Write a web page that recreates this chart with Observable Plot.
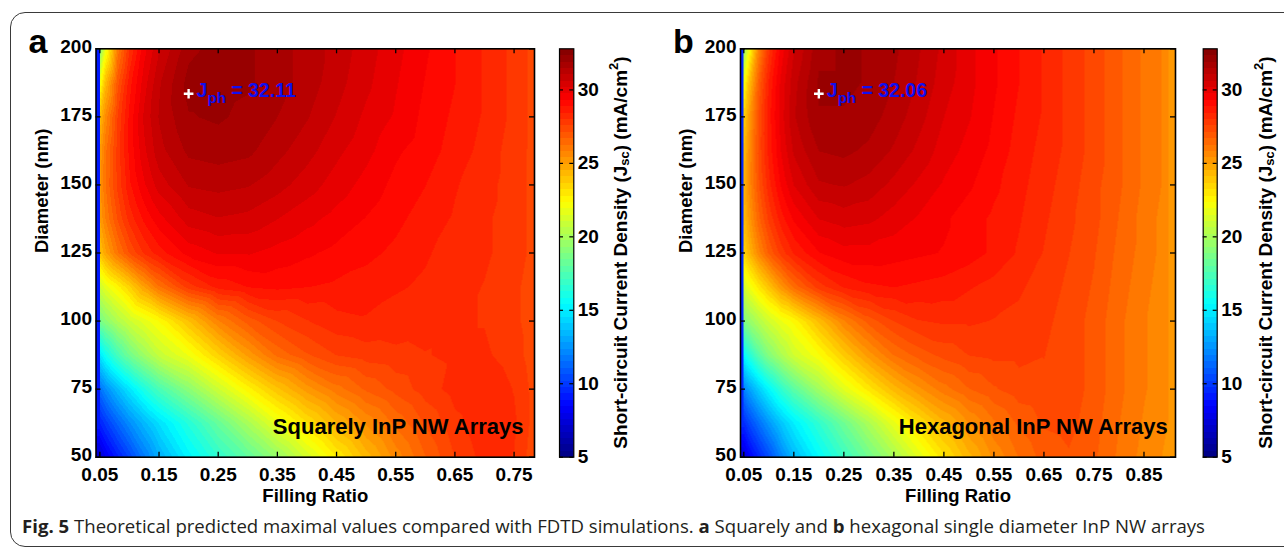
<!DOCTYPE html>
<html><head><meta charset="utf-8">
<script src="https://cdn.jsdelivr.net/npm/d3@7"></script>
<script src="https://cdn.jsdelivr.net/npm/@observablehq/plot@0.6"></script>
<style>
body{margin:0;background:#fff}
#page{position:relative;width:1284px;height:550px;overflow:hidden;background:#fff}
#box{position:absolute;left:10px;top:12px;width:1320px;height:535px;border:1.5px solid #3a3a3a;border-radius:15px;box-sizing:border-box}
.pl{position:absolute;top:0}
#caption{position:absolute;left:22px;top:513px;font-family:'Open Sans',sans-serif;font-size:18.6px;color:#231f20;white-space:nowrap}
#caption b{font-weight:700}
</style></head><body>
<div id="page">
<div id="box"></div>
<div id="pa" class="pl" style="left:0;width:545px"></div>
<div id="ca" class="pl" style="left:540px;width:100px"></div>
<div id="pb" class="pl" style="left:640px;width:545px"></div>
<div id="cb" class="pl" style="left:1184px;width:100px"></div>
<div id="caption"><b>Fig. 5</b> Theoretical predicted maximal values compared with FDTD simulations. <b>a</b> Squarely and <b>b</b> hexagonal single diameter InP NW arrays</div>
</div>
<script>
// ---- data ----
const diameters = [200, 187.5, 175, 162.5, 150, 137.5, 125, 112.5, 100, 87.5, 75, 62.5, 50];

const fillA = [0.05, 0.06, 0.08, 0.1, 0.125, 0.15, 0.2, 0.25, 0.3, 0.35, 0.4, 0.45, 0.5, 0.55, 0.6, 0.65, 0.7, 0.75, 0.78];
const jscA = [
  [19.0, 22.0, 26.0, 28.0, 29.6, 30.6, 31.8, 32.1, 32.0, 31.7, 31.3, 30.9, 30.4, 29.9, 29.4, 28.9, 28.4, 27.9, 27.5],
  [22.0, 24.3, 27.0, 28.7, 30.0, 31.0, 32.1, 32.1, 32.0, 31.7, 31.3, 30.8, 30.3, 29.8, 29.3, 28.9, 28.4, 27.9, 27.5],
  [24.2, 25.6, 27.6, 29.0, 30.3, 31.1, 31.9, 32.0, 31.8, 31.5, 31.1, 30.6, 30.1, 29.7, 29.2, 28.8, 28.4, 27.9, 27.5],
  [25.0, 26.2, 27.8, 29.0, 30.1, 30.9, 31.6, 31.7, 31.6, 31.2, 30.8, 30.3, 29.9, 29.4, 29.1, 28.7, 28.3, 27.8, 27.5],
  [25.3, 26.3, 27.7, 28.8, 29.7, 30.4, 31.1, 31.2, 31.1, 30.8, 30.4, 30.0, 29.6, 29.2, 28.9, 28.5, 28.2, 27.8, 27.5],
  [25.0, 25.9, 27.2, 28.2, 29.0, 29.6, 30.4, 30.6, 30.5, 30.2, 29.9, 29.6, 29.3, 29.0, 28.7, 28.4, 28.1, 27.8, 27.5],
  [24.0, 24.9, 26.2, 27.2, 28.1, 28.7, 29.5, 29.8, 29.8, 29.6, 29.4, 29.2, 29.0, 28.8, 28.5, 28.3, 28.1, 27.8, 27.5],
  [21.0, 21.7, 22.6, 23.6, 25.0, 26.2, 27.8, 28.6, 28.9, 29.0, 28.9, 28.8, 28.7, 28.5, 28.4, 28.2, 28.0, 27.7, 27.4],
  [18.6, 19.2, 20.2, 21.0, 21.7, 22.4, 24.1, 25.8, 26.9, 27.6, 28.0, 28.3, 28.4, 28.3, 28.2, 28.1, 28.0, 27.7, 27.4],
  [14.8, 15.8, 17.3, 18.5, 19.7, 20.8, 22.0, 23.6, 25.1, 26.4, 27.1, 27.6, 27.8, 27.9, 28.0, 28.1, 28.1, 27.8, 27.4],
  [11.5, 12.3, 13.6, 14.8, 16.2, 17.4, 19.2, 21.0, 22.6, 24.0, 25.2, 26.1, 26.8, 27.3, 27.8, 28.2, 28.4, 28.0, 27.5],
  [ 9.3, 10.0, 11.2, 12.3, 13.5, 14.6, 16.4, 18.2, 20.0, 21.8, 23.2, 24.5, 25.5, 26.4, 27.2, 27.9, 28.4, 28.1, 27.5],
  [ 7.2,  8.0,  9.2, 10.3, 11.8, 13.2, 15.2, 16.7, 18.0, 19.5, 21.2, 22.8, 24.3, 25.6, 26.7, 27.6, 28.2, 28.0, 27.4]
];

const fillB = [0.05, 0.06, 0.08, 0.1, 0.125, 0.15, 0.2, 0.25, 0.3, 0.35, 0.4, 0.45, 0.5, 0.55, 0.6, 0.65, 0.7, 0.75, 0.8, 0.85, 0.9];
const jscB = [
  [19.5, 22.0, 25.8, 27.9, 29.5, 30.6, 31.8, 32.0, 31.9, 31.6, 31.1, 30.5, 29.9, 29.4, 28.9, 28.4, 27.9, 27.4, 26.8, 26.2, 25.7],
  [22.0, 24.0, 26.8, 28.5, 29.9, 30.9, 32.0, 32.0, 31.9, 31.5, 31.0, 30.4, 29.9, 29.4, 28.9, 28.4, 27.9, 27.4, 26.8, 26.2, 25.7],
  [23.6, 25.0, 27.2, 28.7, 30.0, 31.0, 31.9, 31.9, 31.7, 31.3, 30.8, 30.2, 29.8, 29.3, 28.8, 28.4, 27.9, 27.4, 26.8, 26.2, 25.7],
  [24.2, 25.4, 27.3, 28.6, 29.8, 30.7, 31.5, 31.6, 31.4, 31.0, 30.5, 30.0, 29.6, 29.2, 28.7, 28.3, 27.9, 27.4, 26.8, 26.2, 25.7],
  [24.4, 25.5, 27.1, 28.3, 29.4, 30.2, 31.0, 31.1, 30.9, 30.5, 30.1, 29.7, 29.4, 29.0, 28.6, 28.2, 27.8, 27.3, 26.8, 26.2, 25.7],
  [24.2, 25.1, 26.6, 27.7, 28.7, 29.4, 30.2, 30.4, 30.3, 30.0, 29.7, 29.4, 29.1, 28.8, 28.5, 28.1, 27.7, 27.3, 26.7, 26.1, 25.6],
  [23.5, 24.3, 25.7, 26.8, 27.8, 28.5, 29.3, 29.6, 29.6, 29.5, 29.4, 29.3, 29.1, 28.8, 28.4, 28.0, 27.6, 27.2, 26.6, 26.1, 25.6],
  [21.2, 21.9, 23.0, 24.0, 25.3, 26.4, 27.8, 28.5, 28.8, 28.9, 28.8, 28.7, 28.5, 28.3, 28.1, 27.8, 27.5, 27.1, 26.5, 26.0, 25.5],
  [18.8, 19.4, 20.3, 21.1, 21.9, 22.5, 24.2, 25.8, 26.9, 27.6, 28.0, 28.1, 28.1, 28.0, 27.9, 27.7, 27.4, 27.0, 26.4, 25.9, 25.5],
  [15.4, 16.3, 17.8, 19.0, 20.1, 21.1, 22.3, 23.8, 25.2, 26.3, 26.9, 27.3, 27.6, 27.7, 27.7, 27.6, 27.4, 27.0, 26.4, 25.9, 25.5],
  [12.0, 12.8, 14.1, 15.3, 16.7, 17.9, 19.8, 21.6, 23.0, 24.3, 25.3, 26.1, 26.7, 27.1, 27.4, 27.5, 27.4, 27.0, 26.4, 25.9, 25.5],
  [ 9.6, 10.3, 11.5, 12.6, 13.9, 15.0, 16.7, 18.4, 20.1, 21.8, 23.2, 24.4, 25.4, 26.2, 26.8, 27.2, 27.3, 26.9, 26.3, 25.8, 25.4],
  [ 7.4,  8.2,  9.4, 10.5, 12.1, 13.5, 15.4, 17.0, 18.5, 20.0, 21.6, 23.1, 24.4, 25.5, 26.3, 26.9, 27.1, 26.8, 26.2, 25.7, 25.3]
];

const peakA = {f: 0.2, d: 183.5, label: "32.11"};
const peakB = {f: 0.2, d: 183.5, label: "32.06"};

const xTicksA = [0.05, 0.15, 0.25, 0.35, 0.45, 0.55, 0.65, 0.75];
const xTicksB = [0.05, 0.15, 0.25, 0.35, 0.45, 0.55, 0.65, 0.75, 0.85];
const yTicks = [50, 75, 100, 125, 150, 175, 200];
const cbTicks = [5, 10, 15, 20, 25, 30];
const xDomainA = [0.0435, 0.7845];
const xDomainB = [0.0434, 0.913];
const yDomain = [50, 200];
const cDomain = [5, 32.8];

// ---- jet colormap (64 levels) ----
const jetStops = ["#000080", "#0000ff", "#0080ff", "#00ffff", "#80ff80", "#ffff00", "#ff8000", "#ff0000", "#800000"];
const jetInterp = d3.piecewise(d3.interpolateRgb, jetStops);
const jet64 = t => jetInterp((Math.min(63, Math.max(0, Math.floor(t * 64))) + 0.5) / 64);
const colorOpts = {type: "linear", domain: cDomain, interpolate: jet64, clamp: true};

const baseStyle = {fontFamily: "'Liberation Sans', Arial, sans-serif", fontSize: "19px", fontWeight: "bold", color: "black", background: "transparent", overflow: "visible"};
const NS = "http://www.w3.org/2000/svg";

function richText(spec) {
  return (index, scales, values, dimensions) => {
    const [x, y] = spec.at(scales, dimensions);
    const g = document.createElementNS(NS, "g");
    const text = document.createElementNS(NS, "text");
    text.setAttribute("transform", `translate(${x},${y})` + (spec.rotate ? ` rotate(${spec.rotate})` : ""));
    text.setAttribute("text-anchor", spec.anchor || "start");
    text.setAttribute("font-size", spec.fontSize);
    text.setAttribute("font-weight", spec.weight || "bold");
    text.setAttribute("fill", spec.fill || "black");
    if (spec.baseline) text.setAttribute("dominant-baseline", spec.baseline);
    let shift = 0;
    for (const p of spec.parts) {
      const ts = document.createElementNS(NS, "tspan");
      const s = p.shift || 0;
      ts.setAttribute("dy", s - shift);
      shift = s;
      if (p.size) ts.setAttribute("font-size", p.size);
      ts.textContent = p.t;
      text.appendChild(ts);
    }
    g.appendChild(text);
    return g;
  };
}

function panel({fill, jsc, xDomain, xTicks, letter, label, labelDx, peak, ml, mr}) {
  const pts = [];
  diameters.forEach((d, i) => fill.forEach((f, j) => pts.push({f, d, v: jsc[i][j]})));
  const W = 545, H = 510, mt = 48.3, mb = 53.3;
  const fw = W - ml - mr, fh = H - mt - mb;
  return Plot.plot({
    width: W, height: H, marginLeft: ml, marginRight: mr, marginTop: mt, marginBottom: mb,
    style: baseStyle,
    x: {domain: xDomain},
    y: {domain: yDomain},
    color: colorOpts,
    marks: [
      Plot.raster(pts, {x: "f", y: "d", fill: "v", interpolate: "barycentric"}),
      Plot.ruleX(xTicks, {x: d => d, insetTop: fh - 5, stroke: "black", strokeWidth: 1.3}),
      Plot.ruleX(xTicks, {x: d => d, insetBottom: fh - 5, stroke: "black", strokeWidth: 1.3}),
      Plot.ruleY(yTicks, {y: d => d, insetRight: fw - 5, stroke: "black", strokeWidth: 1.3}),
      Plot.ruleY(yTicks, {y: d => d, insetLeft: fw - 5, stroke: "black", strokeWidth: 1.3}),
      Plot.frame({stroke: "black", strokeWidth: 1.6}),
      Plot.axisX(xTicks, {tickSize: 0, tickPadding: 10.5, tickFormat: d3.format(".2f"), label: null}),
      Plot.axisY(yTicks, {tickSize: 0, tickPadding: 4, dy: -2, label: null}),
      Plot.text(["Filling Ratio"], {frameAnchor: "bottom", dy: 39, text: d => d, lineAnchor: "middle", fontSize: 18.5}),
      Plot.text(["Diameter (nm)"], {frameAnchor: "left", dx: -54, rotate: -90, text: d => d, lineAnchor: "middle", fontSize: 18.5}),
      Plot.text([letter], {frameAnchor: "top-left", dx: -67.5, dy: 3.7, text: d => d, textAnchor: "start", lineAnchor: "bottom", fontSize: 34}),
      Plot.text([label], {frameAnchor: "bottom-right", dx: labelDx, dy: -30, text: d => d, textAnchor: "end", lineAnchor: "middle", fontSize: 22}),
      Plot.dot([peak], {x: "f", y: "d", symbol: "plus", r: 3.2, stroke: "white", strokeWidth: 2.4}),
      richText({
        at: s => [s.x(peak.f) + 8.5, s.y(peak.d) + 3.5],
        fontSize: 19.5, fill: "#1010f0",
        parts: [{t: "J"}, {t: "ph", size: 15, shift: 6}, {t: " = " + peak.label}]
      })
    ]
  });
}

function colorbar({ml, mr, titleX}) {
  const W = 100, H = 510, mt = 48.3, mb = 53.3;
  const fw = W - ml - mr;
  return Plot.plot({
    width: W, height: H, marginLeft: ml, marginRight: mr, marginTop: mt, marginBottom: mb,
    style: baseStyle,
    x: {domain: [0, 1], axis: null},
    y: {domain: cDomain},
    color: colorOpts,
    marks: [
      Plot.raster({x1: 0, x2: 1, y1: cDomain[0], y2: cDomain[1], width: 1, height: 64, fill: (x, y) => y, imageRendering: "pixelated"}),
      Plot.ruleY(cbTicks, {y: d => d, insetRight: fw - 4, stroke: "black", strokeWidth: 1.2}),
      Plot.ruleY(cbTicks, {y: d => d, insetLeft: fw - 4, stroke: "black", strokeWidth: 1.2}),
      Plot.frame({stroke: "black", strokeWidth: 1.2}),
      Plot.axisY(cbTicks, {anchor: "right", tickSize: 0, tickPadding: 4, label: null}),
      richText({
        at: (s, d) => [titleX, d.marginTop + (d.height - d.marginTop - d.marginBottom) / 2],
        rotate: -90, anchor: "middle", baseline: "central", fontSize: 19,
        parts: [
          {t: "Short-circuit Current Density (J"},
          {t: "sc", size: 13, shift: 4},
          {t: ") (mA/cm"},
          {t: "2", size: 13, shift: -7},
          {t: ")"}
        ]
      })
    ]
  });
}

document.getElementById("pa").appendChild(panel({
  fill: fillA, jsc: jscA, xDomain: xDomainA, xTicks: xTicksA, letter: "a",
  label: "Squarely InP NW Arrays", labelDx: -11, peak: peakA, ml: 95.5, mr: 11
}));
document.getElementById("pb").appendChild(panel({
  fill: fillB, jsc: jscB, xDomain: xDomainB, xTicks: xTicksB, letter: "b",
  label: "Hexagonal InP NW Arrays", labelDx: -7.7, peak: peakB, ml: 100, mr: 10
}));
document.getElementById("ca").appendChild(colorbar({ml: 19, mr: 66.7, titleX: 80}));
document.getElementById("cb").appendChild(colorbar({ml: 18.7, mr: 67.3, titleX: 81}));
</script>
</body></html>
